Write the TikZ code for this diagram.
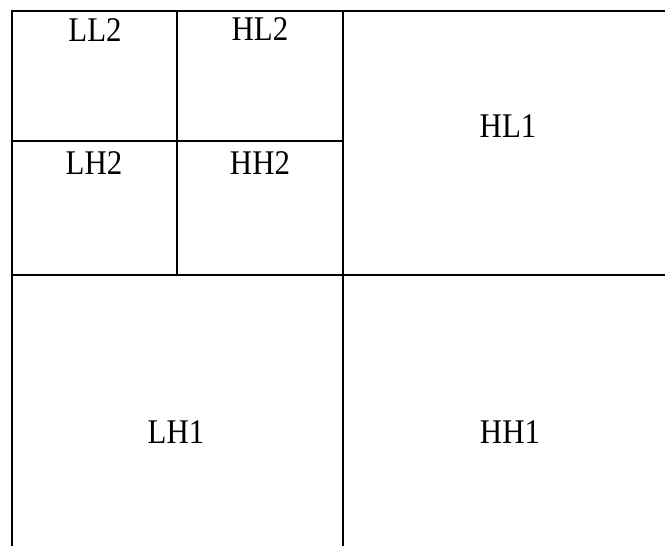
\documentclass[tikz,border=0pt]{standalone}
\usepackage{fontspec}
\setmainfont{Liberation Serif}
\usepackage{tikz}
\usetikzlibrary{positioning}

\begin{document}
\begin{tikzpicture}[x=1bp, y=-1bp, line width=1.3pt,
  band/.style={anchor=base, inner sep=0pt, yscale=1.12, transform shape,
    font=\fontsize{31}{36}\selectfont}]
\useasboundingbox (0,0) rectangle (665,546);
% grid lines
\draw (665,11) -- (12,11) -- (12,546);
\draw (343,11) -- (343,546);
\draw (12,275) -- (665,275);
\draw (177,11) -- (177,275);
\draw (12,141) -- (343,141);
% sub-band labels
\node[band] (ll2) at (95,42) {LL2};
\node[band] (hl2) at (260,41) {HL2};
\node[band] (lh2) at (94,175) {LH2};
\node[band] (hh2) at (260,175) {HH2};
\node[band] (hl1) at (508,138) {HL1};
\node[band] (lh1) at (176,443) {LH1};
\node[band] (hh1) at (510,443) {HH1};
\end{tikzpicture}
\end{document}
